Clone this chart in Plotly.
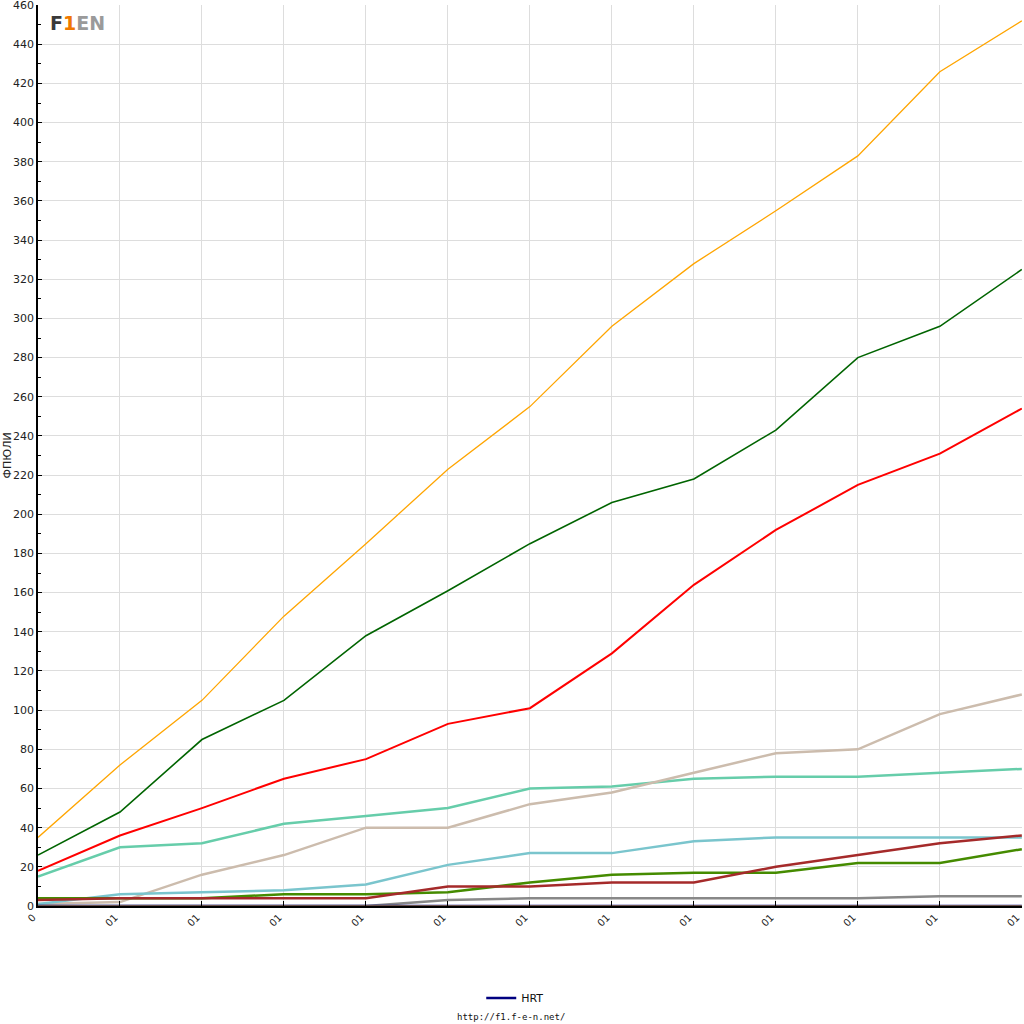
import plotly.graph_objects as go

# ---- data ----
x_idx = list(range(13))
x_labels = ["0"] + ["01"] * 12

orange = [35, 72, 105, 148, 185, 223, 255, 296, 328, 355, 383, 426, 452]
darkgreen = [26, 48, 85, 105, 138, 161, 185, 206, 218, 243, 280, 296, 325]
red = [18, 36, 50, 65, 75, 93, 101, 129, 164, 192, 215, 231, 254]
aquamarine = [15, 30, 32, 42, 46, 50, 60, 61, 65, 66, 66, 68, 70]
tan = [1, 2, 16, 26, 40, 40, 52, 58, 68, 78, 80, 98, 108]
cyan = [1, 6, 7, 8, 11, 21, 27, 27, 33, 35, 35, 35, 35]
olive = [4, 4, 4, 6, 6, 7, 12, 16, 17, 17, 22, 22, 29]
brown = [3, 4, 4, 4, 4, 10, 10, 12, 12, 20, 26, 32, 36]
gray = [0, 0, 0, 0, 0, 3, 4, 4, 4, 4, 4, 5, 5]
hrt = [0] * 13
gold = [0] * 13

series = [
    ("orange", orange, "#FFA500", 1.3),
    ("darkgreen", darkgreen, "#006400", 1.6),
    ("red", red, "#FF0000", 2.0),
    ("aquamarine", aquamarine, "#66CDAA", 2.5),
    ("tan", tan, "#CCBCAD", 2.5),
    ("cyan", cyan, "#7AC5CD", 2.5),
    ("olive", olive, "#458B00", 2.5),
    ("brown", brown, "#A52A2A", 2.5),
    ("gray", gray, "#888888", 2.5),
]

fig = go.Figure()
for name, vals, color, w in series:
    fig.add_trace(go.Scatter(x=x_idx, y=vals, mode="lines", name=name,
                             line=dict(color=color, width=w), showlegend=False))
fig.add_trace(go.Scatter(x=x_idx, y=hrt, mode="lines", name="HRT",
                         line=dict(color="#000080", width=2.5), showlegend=True))
fig.add_trace(go.Scatter(x=x_idx, y=gold, mode="lines", name="gold",
                         line=dict(color="#DAA520", width=1.2), showlegend=False))

font_family = "DejaVu Sans, Verdana, sans-serif"

fig.update_layout(
    width=1024, height=1024,
    template="none",
    paper_bgcolor="white", plot_bgcolor="white",
    margin=dict(l=38, r=2, t=5, b=118, autoexpand=False),
    font=dict(family=font_family, size=11, color="#222222"),
    legend=dict(orientation="h", x=0.485, xanchor="center", y=-0.102, yanchor="middle",
                font=dict(size=11, color="#111111"), bgcolor="rgba(0,0,0,0)"),
    xaxis=dict(range=[0, 12.002], tickmode="array", tickvals=x_idx, ticktext=x_labels,
               tickangle=-45, ticks="inside", ticklen=5, tickcolor="black",
               showgrid=True, gridcolor="#DDDDDD", gridwidth=1,
               showline=True, linecolor="black", linewidth=1.5,
               ticklabeloverflow="allow", ticklabelshift=-5,
               zeroline=False, tickfont=dict(size=10, color="#222222"), automargin=False),
    yaxis=dict(range=[0, 460.05], dtick=20, tick0=0, ticks="inside", ticklen=4, tickcolor="black",
               showgrid=True, gridcolor="#DDDDDD", gridwidth=1,
               showline=True, linecolor="black", linewidth=1.5,
               ticklabeloverflow="allow",
               zeroline=False, tickfont=dict(size=11, color="#222222"), automargin=False,
               minor=dict(dtick=10, ticks="inside", ticklen=3, tickcolor="black", showgrid=False)),
)

fig.add_annotation(text="ФПЮЛИ", xref="paper", yref="paper", x=-0.0305, y=0.5,
                   textangle=-90, showarrow=False, font=dict(size=11, color="#222222"),
                   xanchor="center", yanchor="middle")
fig.add_annotation(text="http://f1.f-e-n.net/", xref="paper", yref="paper", x=0.481, y=-0.123,
                   showarrow=False, font=dict(size=9, color="#111111", family="DejaVu Sans Mono, monospace"),
                   xanchor="center", yanchor="middle")
fig.add_annotation(
    text="<b><span style='color:#3a3a3a'>F</span><span style='color:#F07800'>1</span>"
         "<span style='color:#9a9a9a'>EN</span></b>",
    xref="paper", yref="paper", x=0.010, y=0.995, xanchor="left", yanchor="top",
    showarrow=False, font=dict(size=19, family="DejaVu Sans, sans-serif"))

fig.write_html(
    "out.html",
    config={"displayModeBar": False},
    post_script="document.body.style.margin='0';document.body.style.overflow='hidden';"
                "document.documentElement.style.overflow='hidden';",
)
